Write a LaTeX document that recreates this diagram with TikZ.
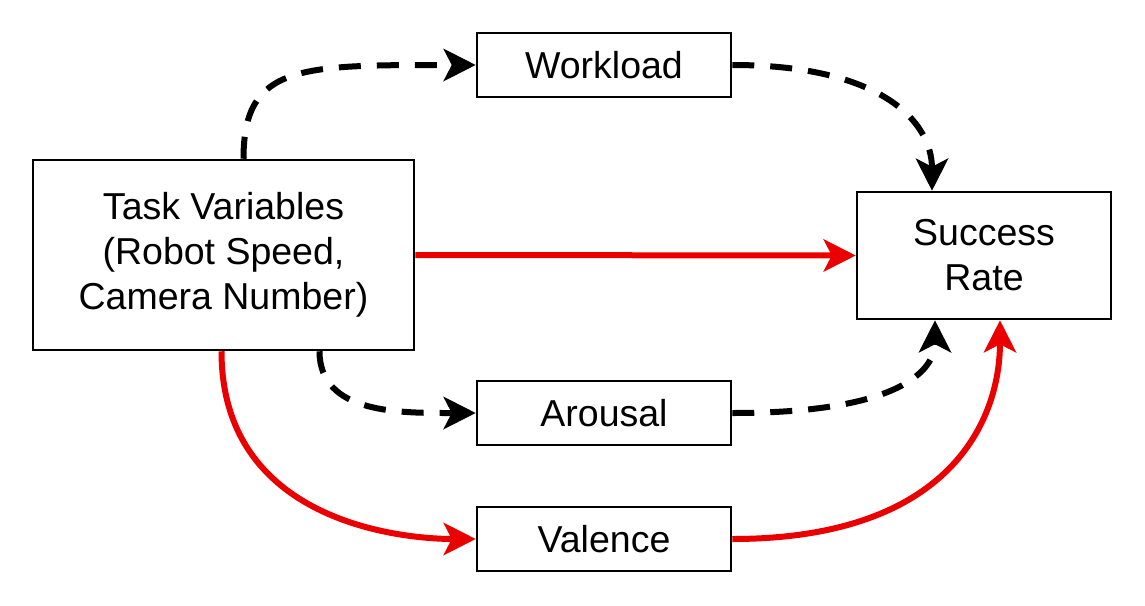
\documentclass[tikz,border=0pt]{standalone}
\usepackage{fontspec}
\setmainfont{Liberation Sans}
\usetikzlibrary{arrows.meta}
\definecolor{myred}{RGB}{235,0,0}
\begin{document}
\begin{tikzpicture}[x=1pt,y=-1pt,
  box/.style={draw,line width=2.5pt,minimum height=64pt,minimum width=254pt,inner sep=0pt,align=center,font=\fontsize{37.5}{45}\selectfont},
  con/.style={line width=6pt,-{Stealth[length=32pt,width=32pt,inset=8pt]}},
  dashcon/.style={con,dash pattern=on 22pt off 16pt},
  redcon/.style={con,draw=myred,color=myred}]
\useasboundingbox (0,0) rectangle (1145,605);
\node[box,minimum width=381pt,minimum height=190pt] (task) at (223.5,255) {Task Variables\\(Robot Speed,\\Camera Number)};
\node[box] (work) at (604,65) {Workload};
\node[box,minimum height=127pt] (succ) at (984,255.5) {Success\\Rate};
\node[box] (arou) at (604,413) {Arousal};
\node[box] (vale) at (604,539) {Valence};
\draw[dashcon] ([xshift=20pt]task.north) .. controls +(0,-95) and (300,65) .. (work.west);
\draw[dashcon] (work.east) .. controls (880,65) and ([xshift=-52pt,yshift=70pt]succ.north) .. ([xshift=-52pt]succ.north);
\draw[redcon] (task.east) -- (succ.west);
\draw[dashcon] ([xshift=96pt]task.south) .. controls +(0,63) and (400,413) .. (arou.west);
\draw[dashcon] (arou.east) .. controls (900,413) and ([xshift=-49pt,yshift=-50pt]succ.south) .. ([xshift=-49pt]succ.south);
\draw[redcon] ([xshift=-2pt]task.south) .. controls +(0,170) and (400,539) .. (vale.west);
\draw[redcon] (vale.east) .. controls (950,539) and ([xshift=16pt,yshift=-100pt]succ.south) .. ([xshift=16pt]succ.south);
\end{tikzpicture}
\end{document}
